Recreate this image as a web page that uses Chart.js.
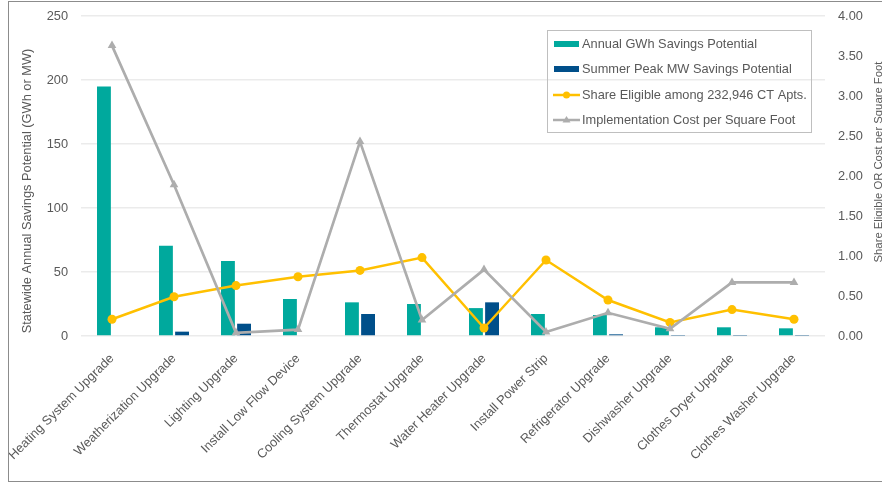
<!DOCTYPE html>
<html>
<head>
<meta charset="utf-8">
<script src="https://cdn.jsdelivr.net/npm/chart.js@4"></script>
<style>
  html, body { margin: 0; padding: 0; background: #fff; overflow: hidden; }
  #wrap { position: relative; width: 882px; height: 483px; }
</style>
</head>
<body>
<div id="wrap"><canvas id="chart" width="882" height="483"></canvas></div>
<script>
  "use strict";

  // ====
  // Data
  // ====
  const categories = [
    "Heating System Upgrade",
    "Weatherization Upgrade",
    "Lighting Upgrade",
    "Install Low Flow Device",
    "Cooling System Upgrade",
    "Thermostat Upgrade",
    "Water Heater Upgrade",
    "Install Power Strip",
    "Refrigerator Upgrade",
    "Dishwasher Upgrade",
    "Clothes Dryer Upgrade",
    "Clothes Washer Upgrade",
  ];
  const annualGwh = [195, 70.5, 58.6, 28.9, 26.3, 25, 21.8, 17.2, 16.4, 6.8, 6.8, 6];
  const summerMw = [0, 3.4, 9.6, 0, 17.2, 0, 26.3, 0, 1.3, 0.3, 0.3, 0.3];
  const shareEligible = [0.21, 0.49, 0.63, 0.74, 0.82, 0.98, 0.1, 0.95, 0.45, 0.17, 0.33, 0.21];
  const costPerSqFt = [3.63, 1.89, 0.04, 0.08, 2.43, 0.2, 0.83, 0.05, 0.29, 0.09, 0.67, 0.67];
  const leftTicks = [0, 50, 100, 150, 200, 250];
  const rightTicks = [0, 0.5, 1, 1.5, 2, 2.5, 3, 3.5, 4];

  const FONT = "'Liberation Sans', Arial, sans-serif";
  const FONT_SIZE = 12.8;
  const TEXT = "#595959";
  const TEAL = "#00A99D";
  const NAVY = "#004F8A";
  const GOLD = "#FFC000";
  const GREY = "#ADADAD";

  const LEFT_TITLE = "Statewide Annual Savings Potential (GWh or MW)";
  const RIGHT_TITLE = "Share Eligible OR Cost per Square Foot";

  // ==========================
  // Frame, axis titles, legend
  // ==========================
  const decorPlugin = {
    id: "decor",
    afterDraw(chart) {
      const ctx = chart.ctx;
      ctx.save();

      // outer frame (right edge falls outside the picture)
      ctx.strokeStyle = "#8c8c8c";
      ctx.lineWidth = 1;
      ctx.strokeRect(8.5, 1.5, 900, 480);

      // axis titles
      ctx.fillStyle = TEXT;
      ctx.font = FONT_SIZE + "px " + FONT;
      ctx.textAlign = "center";
      ctx.textBaseline = "middle";
      ctx.save();
      ctx.translate(27, 191);
      ctx.rotate(-Math.PI / 2);
      ctx.fillText(LEFT_TITLE, 0, 0);
      ctx.restore();

      ctx.font = "11.3px " + FONT;
      ctx.textBaseline = "alphabetic";
      ctx.save();
      ctx.translate(881.5, 162);
      ctx.rotate(-Math.PI / 2);
      ctx.fillText(RIGHT_TITLE, 0, 0);
      ctx.restore();

      // legend box
      const box = { x: 547.5, y: 30.5, w: 264, h: 102 };
      ctx.strokeStyle = "#bfbfbf";
      ctx.strokeRect(box.x, box.y, box.w, box.h);

      const rows = [
        { label: chart.data.datasets[2].label, kind: "bar", color: TEAL },
        { label: chart.data.datasets[3].label, kind: "bar", color: NAVY },
        { label: chart.data.datasets[1].label, kind: "circle", color: GOLD },
        { label: chart.data.datasets[0].label, kind: "triangle", color: GREY },
      ];
      const rowY = [44, 69, 95, 120];
      rows.forEach((row, i) => {
        const y = rowY[i];
        if (row.kind === "bar") {
          ctx.fillStyle = row.color;
          ctx.fillRect(554, y - 3, 25, 6);
        } else {
          ctx.strokeStyle = row.color;
          ctx.lineWidth = 2.5;
          ctx.beginPath();
          ctx.moveTo(553, y);
          ctx.lineTo(580, y);
          ctx.stroke();
          ctx.fillStyle = row.color;
          ctx.beginPath();
          if (row.kind === "circle") {
            ctx.arc(566.5, y, 3.5, 0, Math.PI * 2);
          } else {
            ctx.moveTo(566.5, y - 4);
            ctx.lineTo(570.5, y + 2.5);
            ctx.lineTo(562.5, y + 2.5);
            ctx.closePath();
          }
          ctx.fill();
        }
        ctx.fillStyle = TEXT;
        ctx.font = FONT_SIZE + "px " + FONT;
        ctx.textAlign = "left";
        ctx.textBaseline = "middle";
        ctx.fillText(row.label, 582, y);
      });

      ctx.restore();
    },
  };

  // keep the plot box fixed: no extra room for tick label overhang
  const noOverhang = (scale) => {
    scale.paddingLeft = 0;
    scale.paddingRight = 0;
    scale.paddingTop = 0;
    scale.paddingBottom = 0;
  };

  // =====
  // Chart
  // =====
  const ctx = document.getElementById("chart");
  new Chart(ctx, {
    type: "bar",
    data: {
      labels: categories,
      datasets: [
        {
          type: "line",
          label: "Implementation Cost per Square Foot",
          data: costPerSqFt,
          yAxisID: "y1",
          borderColor: GREY,
          backgroundColor: GREY,
          borderWidth: 2.7,
          pointStyle: "triangle",
          pointRadius: 5,
          pointBorderWidth: 0,
          tension: 0,
          order: 1,
        },
        {
          type: "line",
          label: "Share Eligible among 232,946 CT Apts.",
          data: shareEligible,
          yAxisID: "y1",
          borderColor: GOLD,
          backgroundColor: GOLD,
          borderWidth: 2.5,
          pointStyle: "circle",
          pointRadius: 4.5,
          pointBorderWidth: 0,
          tension: 0,
          order: 2,
        },
        {
          label: "Annual GWh Savings Potential",
          data: annualGwh,
          yAxisID: "y",
          backgroundColor: TEAL,
          categoryPercentage: 0.52,
          barPercentage: 0.86,
          order: 3,
        },
        {
          label: "Summer Peak MW Savings Potential",
          data: summerMw,
          yAxisID: "y",
          backgroundColor: NAVY,
          categoryPercentage: 0.52,
          barPercentage: 0.86,
          order: 4,
        },
      ],
    },
    options: {
      responsive: false,
      animation: false,
      devicePixelRatio: 1,
      layout: { padding: { top: 16, left: 0, right: 0, bottom: 0 } },
      plugins: {
        legend: { display: false },
        tooltip: { enabled: false },
      },
      scales: {
        x: {
          grid: { display: false, drawTicks: false },
          border: { display: false },
          ticks: {
            color: TEXT,
            font: { family: FONT, size: FONT_SIZE },
            maxRotation: 45,
            minRotation: 45,
            padding: 15,
            autoSkip: false,
          },
          afterFit: (scale) => {
            scale.height = 147;
            noOverhang(scale);
          },
        },
        y: {
          position: "left",
          min: 0,
          max: 250,
          afterBuildTicks: (scale) => {
            scale.ticks = leftTicks.map((v) => ({ value: v }));
          },
          grid: { color: "#ebebeb", lineWidth: 1.5, drawTicks: false },
          border: { display: false },
          ticks: {
            color: TEXT,
            font: { family: FONT, size: FONT_SIZE },
            padding: 13,
          },
          afterFit: (scale) => {
            scale.width = 81;
            noOverhang(scale);
          },
        },
        y1: {
          position: "right",
          min: 0,
          max: 4,
          afterBuildTicks: (scale) => {
            scale.ticks = rightTicks.map((v) => ({ value: v }));
          },
          grid: { display: false, drawTicks: false },
          border: { display: false },
          ticks: {
            color: TEXT,
            font: { family: FONT, size: FONT_SIZE },
            padding: 13,
            callback: (v) => Number(v).toFixed(2),
          },
          afterFit: (scale) => {
            scale.width = 57;
            noOverhang(scale);
          },
        },
      },
    },
    plugins: [decorPlugin],
  });
</script>
</body>
</html>
